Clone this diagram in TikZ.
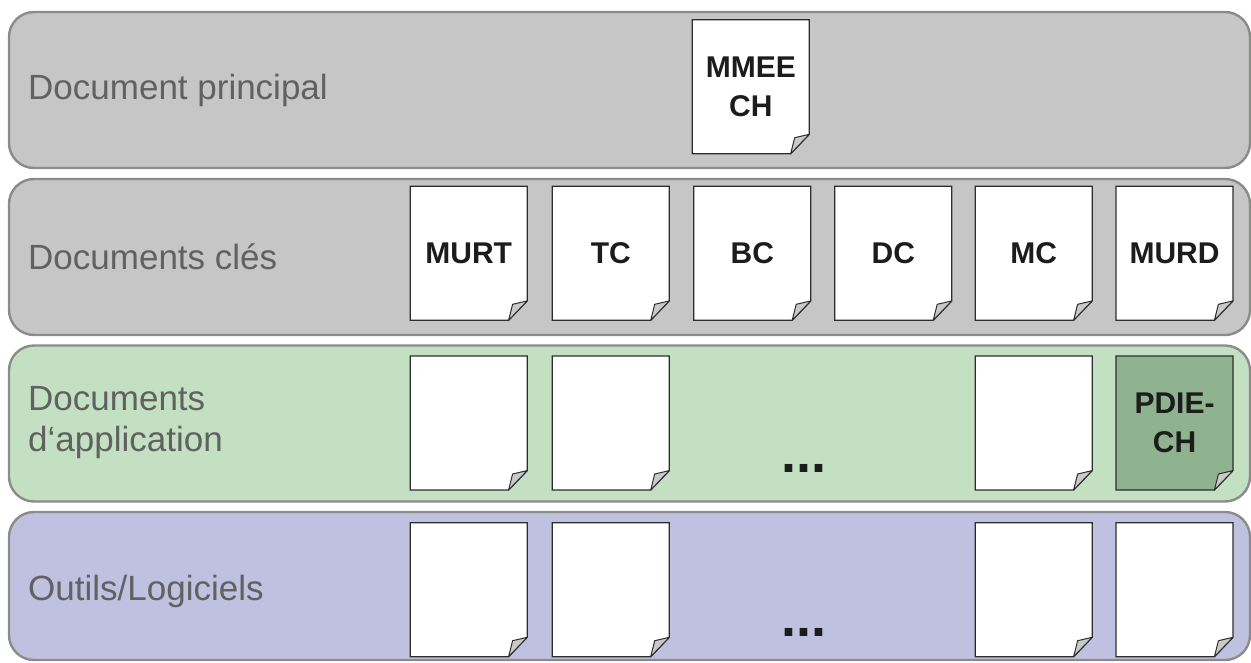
\documentclass[tikz,border=0pt]{standalone}
\usepackage{fontspec}
\setmainfont{Liberation Sans}
\definecolor{bandgray}{RGB}{197,198,197}
\definecolor{bandgreen}{RGB}{195,224,194}
\definecolor{bandblue}{RGB}{192,192,224}
\definecolor{bandline}{RGB}{138,140,138}
\definecolor{labeltext}{RGB}{96,97,96}
\definecolor{docline}{RGB}{45,45,45}
\definecolor{doctext}{RGB}{28,28,28}
\definecolor{foldgray}{RGB}{200,201,200}
\definecolor{pdiegreen}{RGB}{143,178,143}
\newcommand\labelfont{\fontsize{35}{41}\selectfont}
\newcommand\docfont{\fontsize{30}{39}\selectfont\bfseries}
\newcommand\dotsfont{\fontsize{54}{54}\selectfont\bfseries}
\begin{document}
\begin{tikzpicture}[x=1pt,y=-1pt,
  band/.style={draw=bandline, line width=2.4pt, rounded corners=25pt},
  bandlabel/.style={anchor=west, inner sep=0pt, text=labeltext, font=\labelfont, align=left},
  paper/.style={minimum width=119, minimum height=136, inner sep=0pt, align=center,
    font=\docfont, text=doctext,
    path picture={
      \path[fill=#1, draw=docline, line width=1.2pt, line join=miter]
        ([shift={(1pt,-1pt)}]path picture bounding box.north west)
        -- ([shift={(-1pt,-1pt)}]path picture bounding box.north east)
        -- ([shift={(-1pt,20.4pt)}]path picture bounding box.south east)
        -- ([shift={(-19.6pt,1pt)}]path picture bounding box.south east)
        -- ([shift={(1pt,1pt)}]path picture bounding box.south west) -- cycle;
      \path[fill=foldgray, draw=docline, line width=1pt, line join=round]
        ([shift={(-1pt,20.4pt)}]path picture bounding box.south east)
        -- ([shift={(-15.6pt,17pt)}]path picture bounding box.south east)
        -- ([shift={(-19.6pt,1pt)}]path picture bounding box.south east) -- cycle;
    }},
  paper/.default=white,
  ellipsisdots/.style={anchor=base, inner sep=0pt, text=doctext, font=\dotsfont}]
\useasboundingbox (0,0) rectangle (1251,662);
% bands
\draw[band, fill=bandgray]  (9,12)    rectangle (1250,168);
\draw[band, fill=bandgray]  (9,179)   rectangle (1250,335);
\draw[band, fill=bandgreen] (9,345.5) rectangle (1250,501.5);
\draw[band, fill=bandblue]  (9,512)   rectangle (1250,660);
% band labels
\node[bandlabel] (l1) at (28,90) {Document principal};
\node[bandlabel] (l2) at (28,257) {Documents clés};
\node[bandlabel] (l3) at (28,423) {Documents\\d‘application};
\node[bandlabel] (l4) at (28,591) {Outils/Logiciels};
% main document
\node[paper] (mmee) at (750.8,86.7) {MMEE\\CH};
% key documents
\node[paper] (murt) at (468.7,253.3) {MURT};
\node[paper] (tc)   at (610.8,253.3) {TC};
\node[paper] (bc)   at (752.3,253.3) {BC};
\node[paper] (dc)   at (893.3,253.3) {DC};
\node[paper] (mc)   at (1033.7,253.3) {MC};
\node[paper] (murd) at (1174.5,253.3) {MURD};
% application documents
\node[paper] (a1) at (468.7,423) {};
\node[paper] (a2) at (610.8,423) {};
\node[paper] (a5) at (1033.7,423) {};
\node[paper=pdiegreen] (pdie) at (1174.5,423) {PDIE-\\CH};
\node[ellipsisdots] (dots3) at (803.5,472) {...};
% tools
\node[paper] (t1) at (468.7,589.7) {};
\node[paper] (t2) at (610.8,589.7) {};
\node[paper] (t5) at (1033.7,589.7) {};
\node[paper] (t6) at (1174.5,589.7) {};
\node[ellipsisdots] (dots4) at (803.5,636) {...};
\end{tikzpicture}
\end{document}
